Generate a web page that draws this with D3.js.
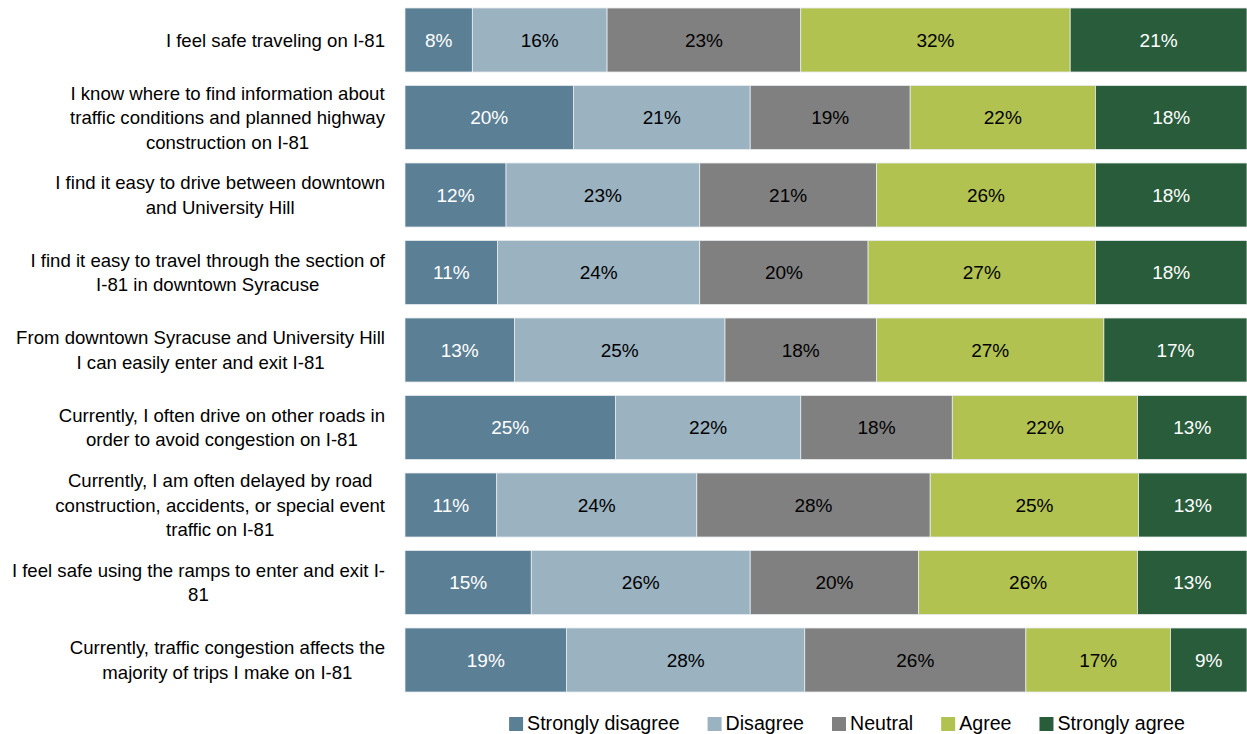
<!DOCTYPE html>
<html>
<head>
<meta charset="utf-8">
<script src="https://cdn.jsdelivr.net/npm/d3@7"></script>
<style>
  html, body { margin: 0; padding: 0; background: #fff; }
  svg { display: block; font-family: "Liberation Sans", Arial, sans-serif; }
</style>
</head>
<body>
<svg id="chart" width="1247" height="734"></svg>
<script>
// Survey statements (each entry is the list of wrapped lines)
const statements = [
  ["I feel safe traveling on I-81"],
  ["I know where to find information about", "traffic conditions and planned highway", "construction on I-81"],
  ["I find it easy to drive between downtown", "and University Hill"],
  ["I find it easy to travel through the section of", "I-81 in  downtown Syracuse"],
  ["From downtown Syracuse and University Hill", "I can easily enter and exit I-81"],
  ["Currently, I often drive on other roads in", "order to avoid congestion on I-81"],
  ["Currently, I am often delayed by road", "construction, accidents, or special event", "traffic on I-81"],
  ["I feel safe using the ramps to enter and exit I-", "81"],
  ["Currently, traffic congestion affects the", "majority of trips I make on I-81"]
];

const responseLabels = ["Strongly disagree", "Disagree", "Neutral", "Agree", "Strongly agree"];

// Percent of respondents per statement
const stronglyDisagree = [8, 20, 12, 11, 13, 25, 11, 15, 19];
const disagree         = [16, 21, 23, 24, 25, 22, 24, 26, 28];
const neutral          = [23, 19, 21, 20, 18, 18, 28, 20, 26];
const agree            = [32, 22, 26, 27, 27, 22, 25, 26, 17];
const stronglyAgree    = [21, 18, 18, 18, 17, 13, 13, 13, 9];

const colors = ["#5b7f95", "#9bb2c0", "#808080", "#b2c251", "#285c3b"];
const textColors = ["#ffffff", "#000000", "#000000", "#000000", "#ffffff"];

const series = [stronglyDisagree, disagree, neutral, agree, stronglyAgree];

// Build one row per statement, each response expressed as share of the row total
const rows = statements.map((s, i) => {
  const vals = series.map(arr => arr[i]);
  const total = d3.sum(vals);
  let acc = 0;
  const segs = vals.map((v, k) => {
    const seg = { key: k, value: v, x0: acc / total, x1: (acc + v) / total };
    acc += v;
    return seg;
  });
  return { index: i, lines: s, segs };
});

const svg = d3.select("#chart");

const x = d3.scaleLinear().domain([0, 1]).range([405, 1247]);
const y = d3.scaleBand()
  .domain(d3.range(statements.length))
  .range([1.25, 698.75])
  .paddingInner(0.174)
  .paddingOuter(0.087);

const rowG = svg.append("g").selectAll("g")
  .data(rows)
  .join("g")
  .attr("transform", d => `translate(0,${y(d.index)})`);

// Stacked segments
rowG.selectAll("rect")
  .data(d => d.segs)
  .join("rect")
  .attr("x", d => x(d.x0))
  .attr("y", 0)
  .attr("width", d => x(d.x1) - x(d.x0))
  .attr("height", y.bandwidth())
  .attr("fill", d => colors[d.key])
  .attr("stroke", "#e6ebee")
  .attr("stroke-width", 0.8);

// Value labels
rowG.selectAll("text.val")
  .data(d => d.segs)
  .join("text")
  .attr("class", "val")
  .attr("x", d => (x(d.x0) + x(d.x1)) / 2)
  .attr("y", y.bandwidth() / 2)
  .attr("dy", "0.36em")
  .attr("text-anchor", "middle")
  .attr("font-size", 19)
  .attr("fill", d => textColors[d.key])
  .text(d => d.value + "%");

// Statement labels, centred on the bar, block right edge at x = 385
const lineH = 24.5;
rowG.append("text")
  .attr("font-size", 18.6)
  .attr("fill", "#000")
  .each(function(d) {
    const t = d3.select(this);
    const n = d.lines.length;
    d.lines.forEach((line, j) => {
      t.append("tspan")
        .attr("x", 385)
        .attr("y", y.bandwidth() / 2 + (j - (n - 1) / 2) * lineH)
        .attr("dy", "0.36em")
        .text(line);
    });
  });

// Wrapped lines are centred on each other, the widest line ending at x = 385
rowG.each(function() {
  const tspans = d3.select(this).selectAll("tspan").nodes();
  const maxW = d3.max(tspans, n => n.getComputedTextLength());
  const center = 385 - maxW / 2;
  tspans.forEach(n => {
    d3.select(n).attr("x", center).attr("text-anchor", "middle");
  });
});

// Legend
const legend = svg.append("g").attr("font-size", 19.6);
const legendY = 723;
const sq = 14;
let lx = 0;
const items = legend.selectAll("g")
  .data(responseLabels)
  .join("g");
items.each(function(label, k) {
  const g = d3.select(this);
  g.append("rect")
    .attr("x", lx).attr("y", legendY - sq / 2 + 1)
    .attr("width", sq).attr("height", sq)
    .attr("fill", colors[k]);
  const t = g.append("text")
    .attr("x", lx + sq + 4)
    .attr("y", legendY)
    .attr("dy", "0.36em")
    .attr("fill", "#000")
    .text(label);
  lx += sq + 4 + t.node().getComputedTextLength() + 28;
});
const legendW = lx - 28;
legend.attr("transform", `translate(${847 - legendW / 2},0)`);
</script>
</body>
</html>
